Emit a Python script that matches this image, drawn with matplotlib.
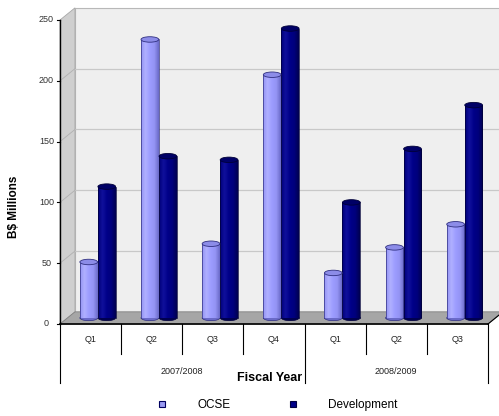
import matplotlib.pyplot as plt
import numpy as np
from matplotlib.patches import Polygon, Ellipse, Rectangle
from matplotlib.lines import Line2D
from matplotlib.colors import LinearSegmentedColormap

quarters = ["Q1", "Q2", "Q3", "Q4", "Q1", "Q2", "Q3"]
years = ["2007/2008", "2008/2009"]
year_spans = [(0, 4), (4, 7)]
ocse = [46, 229, 61, 200, 37, 58, 77]
development = [108, 133, 130, 238, 95, 139, 175]

W, H = 499, 416
fig = plt.figure(figsize=(W / 100, H / 100), dpi=100)
fig.patch.set_facecolor("white")

# plot area in pixels
x0, x1, y0, y1 = 60, 488, 20, 324
ax = fig.add_axes([x0 / W, 1 - y1 / H, (x1 - x0) / W, (y1 - y0) / H])
ax.axis("off")

# depth offset of the back wall, in data units
dx, dy = 0.245, 10.0

# back wall, side wall and floor
ax.add_patch(Polygon([(dx, dy), (7 + dx, dy), (7 + dx, 250 + dy), (dx, 250 + dy)],
                     closed=True, facecolor="#efefef", edgecolor="#b8b8b8", lw=0.8,
                     clip_on=False, zorder=0))
ax.add_patch(Polygon([(0, 0), (dx, dy), (dx, 250 + dy), (0, 250)],
                     closed=True, facecolor="#cfcfcf", edgecolor="#a8a8a8", lw=0.6,
                     clip_on=False, zorder=0))
ax.add_patch(Polygon([(0, 0), (7, 0), (7 + dx, dy), (dx, dy)],
                     closed=True, facecolor="#a6a6a6", edgecolor="#808080", lw=0.6,
                     clip_on=False, zorder=1))

# gridlines on the walls
for v in [50, 100, 150, 200]:
    ax.plot([dx, 7 + dx], [v + dy, v + dy], color="#c8c8c8", lw=0.9, zorder=0.5, clip_on=False)
    ax.plot([0, dx], [v, v + dy], color="#b0b0b0", lw=0.6, zorder=0.5, clip_on=False)

# axis lines and y ticks
ax.plot([0, 0], [0, 250], color="black", lw=1.0, clip_on=False, zorder=5)
ax.plot([0, 7], [0, 0], color="black", lw=1.2, clip_on=False, zorder=5)
ax.plot([7, 7 + dx], [0, dy], color="black", lw=0.8, clip_on=False, zorder=5)
for v in range(0, 251, 50):
    ax.plot([-0.05, 0], [v, v], color="black", lw=0.8, clip_on=False, zorder=5)
    ax.text(-0.22, v, str(v), ha="center", va="center", fontsize=6.5,
            color="#333333", family="Liberation Sans")


def cylinder(xc, val, colors, top_color, edge):
    w = 0.29
    base = dy / 2
    top = base + val
    cmap = LinearSegmentedColormap.from_list("c", colors)
    grad = np.linspace(0, 1, 64).reshape(1, -1)
    rect = Rectangle((xc - w / 2, base), w, val, transform=ax.transData)
    im = ax.imshow(grad, extent=[xc - w / 2, xc + w / 2, base, top], cmap=cmap,
                   aspect="auto", zorder=3)
    im.set_clip_path(rect)
    ax.plot([xc - w / 2, xc - w / 2], [base, top], color=edge, lw=0.5, zorder=3.1)
    ax.plot([xc + w / 2, xc + w / 2], [base, top], color=edge, lw=0.5, zorder=3.1)
    ax.add_patch(Ellipse((xc, base), w, 4.5, facecolor=colors[-1], edgecolor=edge,
                         lw=0.5, zorder=2.9))
    ax.add_patch(Ellipse((xc, top), w, 4.5, facecolor=top_color, edgecolor=edge,
                         lw=0.6, zorder=3.2))


for i in range(len(quarters)):
    cylinder(i + 0.47, ocse[i], ["#9494f4", "#b0b0ff", "#9c9cff", "#9494f4", "#6a6ac8"],
             "#8c8ce8", "#303080")
    cylinder(i + 0.765, development[i], ["#00007a", "#10109c", "#000088", "#00007c", "#000050"],
             "#000066", "#000038")

ax.set_xlim(0, 7)
ax.set_ylim(0, 250)

# multi-level category axis
ph = y1 - y0
for i, q in enumerate(quarters):
    ax.text(i + 0.5, -16 / ph * 250, q, ha="center", va="center", fontsize=6.5,
            color="#222222", family="Liberation Sans", clip_on=False)
for b in range(8):
    depth = 59 if b in (0, 4, 7) else 30
    ax.plot([b, b], [0, -depth / ph * 250], color="black", lw=0.8, clip_on=False, zorder=5)
for name, (a, b) in zip(years, year_spans):
    ax.text((a + b) / 2, -47 / ph * 250, name, ha="center", va="center", fontsize=6.5,
            color="#222222", family="Liberation Sans", clip_on=False)

fig.text(270 / W, 1 - 378 / H, "Fiscal Year", ha="center", va="center", fontsize=9,
         fontweight="bold", family="Liberation Sans")
fig.text(14 / W, 1 - 207 / H, "B$ Millions", ha="center", va="center", fontsize=8.5,
         fontweight="bold", rotation=90, family="Liberation Sans")

handles = [Line2D([], [], marker="s", ls="none", markersize=5, markerfacecolor="#9a9af2",
                  markeredgecolor="#000060", markeredgewidth=0.8),
           Line2D([], [], marker="s", ls="none", markersize=5, markerfacecolor="#000088",
                  markeredgecolor="#000040", markeredgewidth=0.8)]
fig.legend(handles, ["OCSE", "Development"], loc="center", ncol=2, frameon=False,
           bbox_to_anchor=(274 / W, 1 - 405 / H), prop={"family": "Liberation Sans", "size": 8.5},
           handletextpad=2.0, columnspacing=4.3)

fig.savefig("out.png", dpi=100)
